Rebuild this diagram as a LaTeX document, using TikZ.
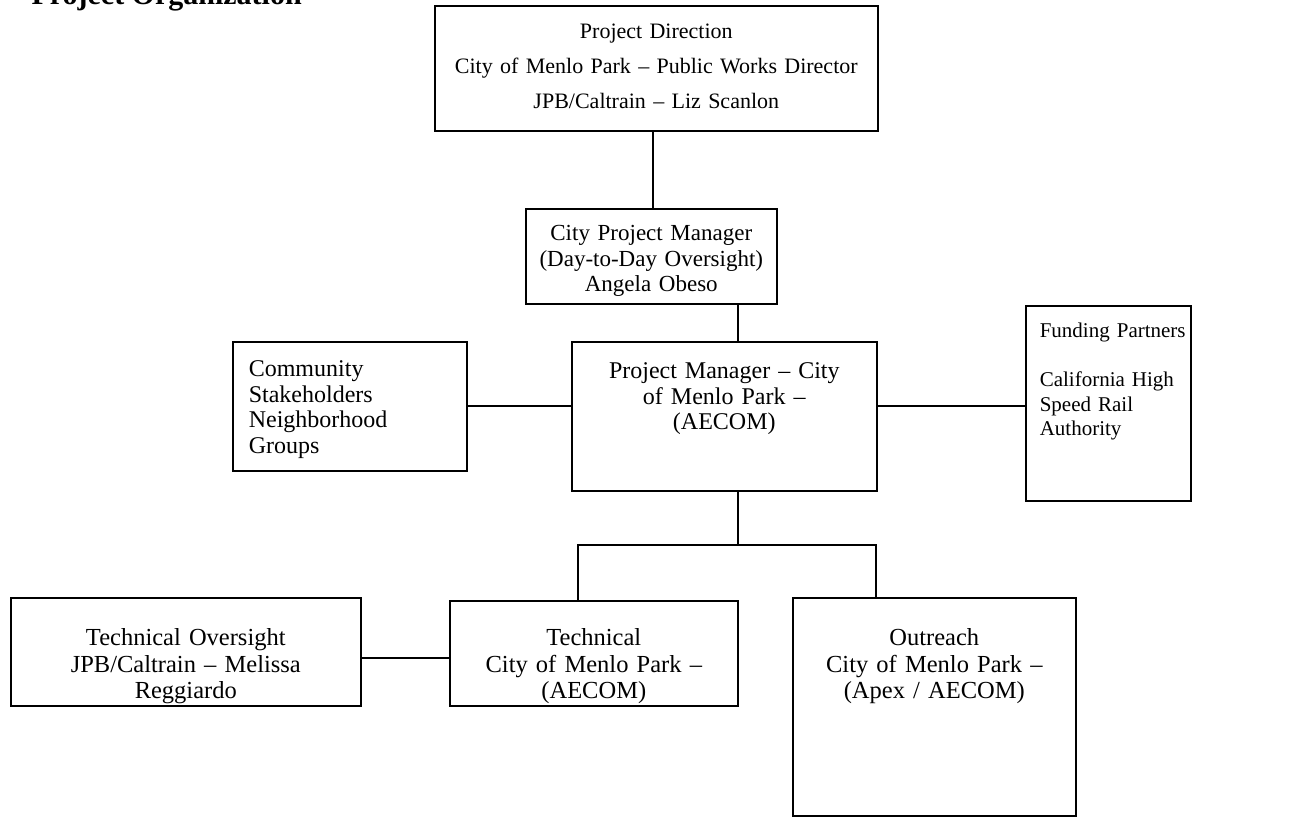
\documentclass[tikz,border=0pt]{standalone}
\usepackage{fontspec}
\setmainfont{Liberation Serif}
\tikzset{
  orgbox/.style={draw, line width=1.6pt, anchor=north west, inner xsep=10pt, inner ysep=0pt, align=center},
  leftbox/.style={orgbox, align=left},
  link/.style={line width=1.6pt},
}
\begin{document}
\begin{tikzpicture}[x=1pt, y=1pt, font=\fontsize{24}{25.5}\selectfont]
    \useasboundingbox (0,0) rectangle (1297,-818);
    \clip (0,0) rectangle (1297,-818);
    \node[anchor=base west, font=\fontsize{30}{34}\selectfont\bfseries] (title) at (28,-5) {Project Organization};
    \node[orgbox, font=\fontsize{22}{35}\selectfont, text width=423pt, text height=32.3pt, text depth=92.7pt] (dir) at (434,-5) {Project Direction\\City of Menlo Park – Public Works Director\\JPB/Caltrain – Liz Scanlon};
    \node[orgbox, font=\fontsize{23}{25.5}\selectfont, text width=231pt, text height=31.7pt, text depth=63.3pt] (cpm) at (525,-208) {City Project Manager\\(Day-to-Day Oversight)\\Angela Obeso};
    \node[orgbox, text width=285pt, text height=37pt, text depth=112pt] (pm) at (571,-341) {Project Manager – City\\of Menlo Park –\\(AECOM)};
    \node[leftbox, text width=202pt, inner xsep=16pt, text height=35pt, text depth=94pt] (comm) at (232,-341) {Community\\Stakeholders\\Neighborhood\\Groups};
    \node[leftbox, font=\fontsize{21}{24.5}\selectfont, text width=137pt, inner xsep=14pt, text height=32pt, text depth=163pt] (fund) at (1025,-305) {\mbox{Funding Partners}\\[24.5pt]\mbox{California High}\\\mbox{Speed Rail}\\Authority};
    \begin{scope}[font=\fontsize{24.5}{26.5}\selectfont]
    \node[orgbox, text width=330pt, text height=48pt, text depth=60pt] (techov) at (10,-597) {Technical Oversight\\JPB/Caltrain – Melissa\\Reggiardo};
    \node[orgbox, text width=268pt, text height=45pt, text depth=60pt] (tech) at (449,-600) {Technical\\City of Menlo Park –\\(AECOM)};
    \node[orgbox, text width=263pt, text height=48pt, text depth=170pt] (outr) at (792,-597) {Outreach\\City of Menlo Park –\\(Apex / AECOM)};
    \end{scope}
    \coordinate (topspine) at (653,0);
    \coordinate (spine) at (738,0);
    \coordinate (midrow) at (0,-406);
    \coordinate (lowrow) at (0,-658);
    \coordinate (barL) at (578,-545);
    \coordinate (barR) at (876,-545);
    \draw[link] (dir.south -| topspine) -- (cpm.north -| topspine);
    \draw[link] (cpm.south -| spine) -- (pm.north -| spine);
    \draw[link] (comm.east |- midrow) -- (pm.west |- midrow);
    \draw[link] (pm.east |- midrow) -- (fund.west |- midrow);
    \draw[link] (pm.south -| spine) -- (spine |- barL);
    \draw[link] (tech.north -| barL) -- (barL) -- (barR) -- (outr.north -| barR);
    \draw[link] (techov.east |- lowrow) -- (tech.west |- lowrow);
\end{tikzpicture}
\end{document}
